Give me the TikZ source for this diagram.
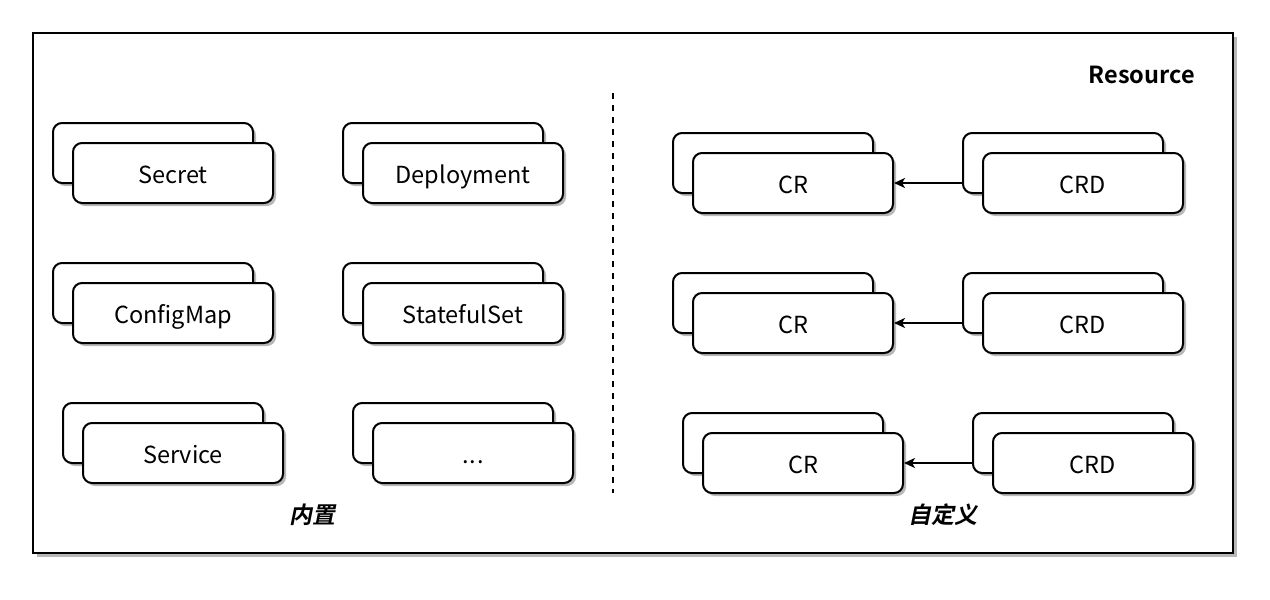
\documentclass[tikz,border=0pt]{standalone}
\usepackage{fontspec}
\setmainfont{Noto Sans CJK SC}[BoldFont={Noto Sans CJK SC Bold},BoldItalicFont={Noto Sans CJK SC Bold},BoldItalicFeatures={FakeSlant=0.2},ItalicFont={Noto Sans CJK SC},ItalicFeatures={FakeSlant=0.2}]
\usetikzlibrary{arrows.meta,shadows,calc}
\tikzset{
  box/.style={draw=black, line width=2pt, fill=white, rounded corners=9pt,
    minimum width=200pt, minimum height=60pt, inner sep=0pt,
    text height=24pt, text depth=3pt,
    font=\fontsize{23.5}{28}\selectfont,
    drop shadow={shadow xshift=3pt, shadow yshift=-3pt, fill=black!28, opacity=1}},
  link/.style={line width=2pt, -{Stealth[length=11pt,width=10pt,inset=3pt]}},
  grouplabel/.style={font=\fontsize{23}{27}\selectfont\bfseries\itshape, inner sep=0pt},
}
\newcommand{\stackbox}[4]{%
  \node[box] (#1b) at (#2,#3) {};
  \node[box] (#1) at ($(#2,#3)+(20,20)$) {#4};
}
\begin{document}
\begin{tikzpicture}[x=1pt,y=-1pt]
\useasboundingbox (0,0) rectangle (1270,600);
% outer frame
\node[draw=black, line width=2pt, fill=white, minimum width=1200pt, minimum height=520pt, inner sep=0pt,
  drop shadow={shadow xshift=4pt, shadow yshift=-4pt, fill=black!28, opacity=1}] (frame) at (633,293) {};
\node[font=\fontsize{23.5}{28}\selectfont\bfseries, anchor=east, inner sep=0pt] (res) at (1195,75) {Resource};
% dashed divider
\coordinate (dtop) at (613,93);
\coordinate (dbot) at (613,493);
\draw[line width=2pt, dash pattern=on 6pt off 6pt] (dtop) -- (dbot);
% built-in
\stackbox{secret}{153}{153}{Secret}
\stackbox{deploy}{443}{153}{Deployment}
\stackbox{cfg}{153}{293}{ConfigMap}
\stackbox{sts}{443}{293}{StatefulSet}
\stackbox{svc}{163}{433}{Service}
\stackbox{more}{453}{433}{.\kern1pt.\kern1pt.}
\node[grouplabel] (builtin) at (312,515) {内置};
% custom
\stackbox{cra}{773}{163}{CR}
\stackbox{crda}{1063}{163}{CRD}
\stackbox{crb}{773}{303}{CR}
\stackbox{crdb}{1063}{303}{CRD}
\stackbox{crc}{783}{443}{CR}
\stackbox{crdc}{1073}{443}{CRD}
\node[grouplabel] (custom) at (943,515) {自定义};
% arrows
\draw[link] (crdab.west |- cra.east) -- (cra.east);
\draw[link] (crdbb.west |- crb.east) -- (crb.east);
\draw[link] (crdcb.west |- crc.east) -- (crc.east);
\end{tikzpicture}
\end{document}
